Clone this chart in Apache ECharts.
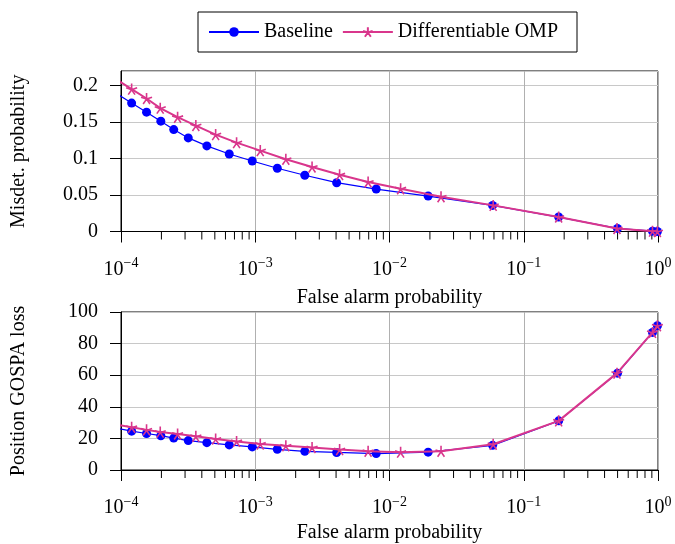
<!DOCTYPE html>
<html>
<head>
<meta charset="utf-8">
<script src="https://cdn.jsdelivr.net/npm/echarts@6/dist/echarts.min.js"></script>
<style>
  html, body { margin: 0; padding: 0; background: #fff; }
  #chart { width: 675px; height: 544px; }
</style>
</head>
<body>
<div id="chart"></div>
<script>
// values (x = false alarm probability)
const faBaseline = [9.3e-5, 1.2e-4, 1.55e-4, 1.98e-4, 2.47e-4, 3.17e-4, 4.36e-4, 6.4e-4, 9.5e-4, 1.46e-3, 2.34e-3, 4.04e-3, 7.96e-3, 1.94e-2, 5.86e-2, 0.182, 0.499, 0.91, 0.99];
const mdBaseline = [0.189, 0.176, 0.1636, 0.1512, 0.1397, 0.1283, 0.1173, 0.1063, 0.0967, 0.0867, 0.0771, 0.0669, 0.0582, 0.0486, 0.0358, 0.0198, 0.0042, 0.0005, 0.0];
const gospaBaseline = [26.5, 24.6, 23.1, 21.7, 20.2, 18.6, 17.3, 15.9, 14.6, 13.1, 11.8, 11.1, 10.4, 11.3, 15.6, 31.1, 61.3, 87.1, 91.3];

const faOmp = [9.3e-5, 1.2e-4, 1.55e-4, 1.96e-4, 2.64e-4, 3.61e-4, 5.07e-4, 7.26e-4, 1.09e-3, 1.69e-3, 2.65e-3, 4.25e-3, 6.93e-3, 1.21e-2, 2.42e-2, 5.92e-2, 0.182, 0.495, 0.91, 0.99];
const mdOmp = [0.208, 0.1952, 0.1823, 0.1691, 0.1567, 0.1452, 0.1328, 0.1218, 0.1109, 0.0990, 0.0885, 0.0779, 0.0679, 0.0587, 0.0477, 0.0358, 0.0198, 0.0042, 0.0005, 0.0];
const gospaOmp = [28.6, 27.1, 25.4, 24.0, 22.8, 21.3, 19.6, 18.1, 16.5, 15.3, 14.2, 12.9, 11.9, 11.3, 11.9, 16.3, 31.1, 61.3, 87.1, 91.3];

const seriesNames = ['Baseline', 'Differentiable OMP'];

// minor ticks of the log axis (2..9 in each decade)
const minorTicks = [];
for (let e = -4; e < 0; e++) {
    for (let m = 2; m <= 9; m++) minorTicks.push(m * Math.pow(10, e));
}

const FONT = '"Liberation Serif", "DejaVu Serif", serif';
const BLUE = '#0000ff';
const PINK = '#d9368c';
const STAR = 'path://M0,-10L0,0M9.51,-3.09L0,0M5.88,8.09L0,0M-5.88,8.09L0,0M-9.51,-3.09L0,0';

const zip = (xs, ys) => xs.map((x, i) => [x, ys[i]]);

const expLabel = function (v) {
    const e = Math.round(Math.log10(v));
    return '{b|10}{s|' + (e < 0 ? '\u2212' + (-e) : e) + '}';
};

const makeX = function (gi) {
    return {
        type: 'log', gridIndex: gi, min: 1e-4, max: 1, logBase: 10,
        name: 'False alarm probability', nameLocation: 'middle', nameGap: gi === 0 ? 56 : 53,
        nameTextStyle: { fontFamily: FONT, fontSize: 20, color: '#000' },
        axisLine: { show: true, lineStyle: { color: '#000', width: 1 } },
        axisTick: { show: true, inside: false, length: 11, lineStyle: { color: '#000' } },
        minorTick: { show: false },
        splitLine: { show: true, lineStyle: { color: '#b0b0b0', width: 1 } },
        axisLabel: {
            margin: 25, formatter: expLabel, color: '#000',
            rich: {
                b: { fontFamily: FONT, fontSize: 20, lineHeight: 26, color: '#000' },
                s: { fontFamily: FONT, fontSize: 14, lineHeight: 14, verticalAlign: 'top', color: '#000' }
            }
        }
    };
};

const makeY = function (gi, opts, hideMax) {
    return Object.assign({
        type: 'value', gridIndex: gi, nameLocation: 'middle', nameGap: 92,
        nameTextStyle: { fontFamily: FONT, fontSize: 20, color: '#000' },
        axisLine: { show: true, lineStyle: { color: '#000', width: 1 } },
        axisTick: { show: true, inside: false, length: 11, lineStyle: { color: '#000' } },
        splitLine: { show: true, lineStyle: { color: '#c8c8c8', width: 1 } },
        axisLabel: { margin: 23, fontFamily: FONT, fontSize: 20, color: '#000', showMaxLabel: !hideMax }
    }, opts);
};

const lineSeries = function (name, gi, data, isOmp) {
    return {
        name: name, type: 'line', xAxisIndex: gi, yAxisIndex: gi, data: data,
        clip: true, z: isOmp ? 4 : 3,
        symbol: isOmp ? STAR : 'circle',
        symbolSize: isOmp ? 11 : 9,
        showAllSymbol: true,
        lineStyle: { color: isOmp ? PINK : BLUE, width: isOmp ? 2 : 1.2 },
        itemStyle: isOmp
            ? { color: PINK, borderColor: PINK, borderWidth: 1.6 }
            : { color: BLUE, borderWidth: 0 },
        emphasis: { disabled: true }
    };
};

const minorTickSeries = function (gi) {
    return {
        type: 'custom', xAxisIndex: gi, yAxisIndex: gi, silent: true, clip: false,
        data: minorTicks.map(v => [v, 0]),
        renderItem: function (params, api) {
            const p = api.coord([api.value(0), api.value(1)]);
            return {
                type: 'line',
                shape: { x1: p[0], y1: p[1], x2: p[0], y2: p[1] + 8 },
                style: { stroke: '#000', lineWidth: 1 }
            };
        }
    };
};

const chart = echarts.init(document.getElementById('chart'), null, { renderer: 'canvas' });

const option = {
    animation: false,
    backgroundColor: '#fff',
    legend: {
        data: seriesNames,
        left: 198, top: 12,
        padding: [10, 19, 10, 10],
        itemWidth: 50, itemHeight: 12, itemGap: 9,
        borderColor: '#000', borderWidth: 1,
        textStyle: { fontFamily: FONT, fontSize: 20, color: '#000' }
    },
    grid: [
        { left: 121, right: 17, top: 71, height: 160.5, show: true, borderColor: '#000', borderWidth: 1, backgroundColor: 'transparent' },
        { left: 121, right: 17, top: 312, height: 160, show: true, borderColor: '#000', borderWidth: 1, backgroundColor: 'transparent' }
    ],
    xAxis: [makeX(0), makeX(1)],
    yAxis: [
        makeY(0, { name: 'Misdet. probability', min: 0, max: 0.22, interval: 0.05 }, true),
        makeY(1, { name: 'Position GOSPA loss', min: 0, max: 100, interval: 20 }, false)
    ],
    series: [
        lineSeries(seriesNames[0], 0, zip(faBaseline, mdBaseline), false),
        lineSeries(seriesNames[1], 0, zip(faOmp, mdOmp), true),
        lineSeries(seriesNames[0], 1, zip(faBaseline, gospaBaseline), false),
        lineSeries(seriesNames[1], 1, zip(faOmp, gospaOmp), true),
        minorTickSeries(0),
        minorTickSeries(1)
    ]
};

chart.setOption(option);
</script>
</body>
</html>
